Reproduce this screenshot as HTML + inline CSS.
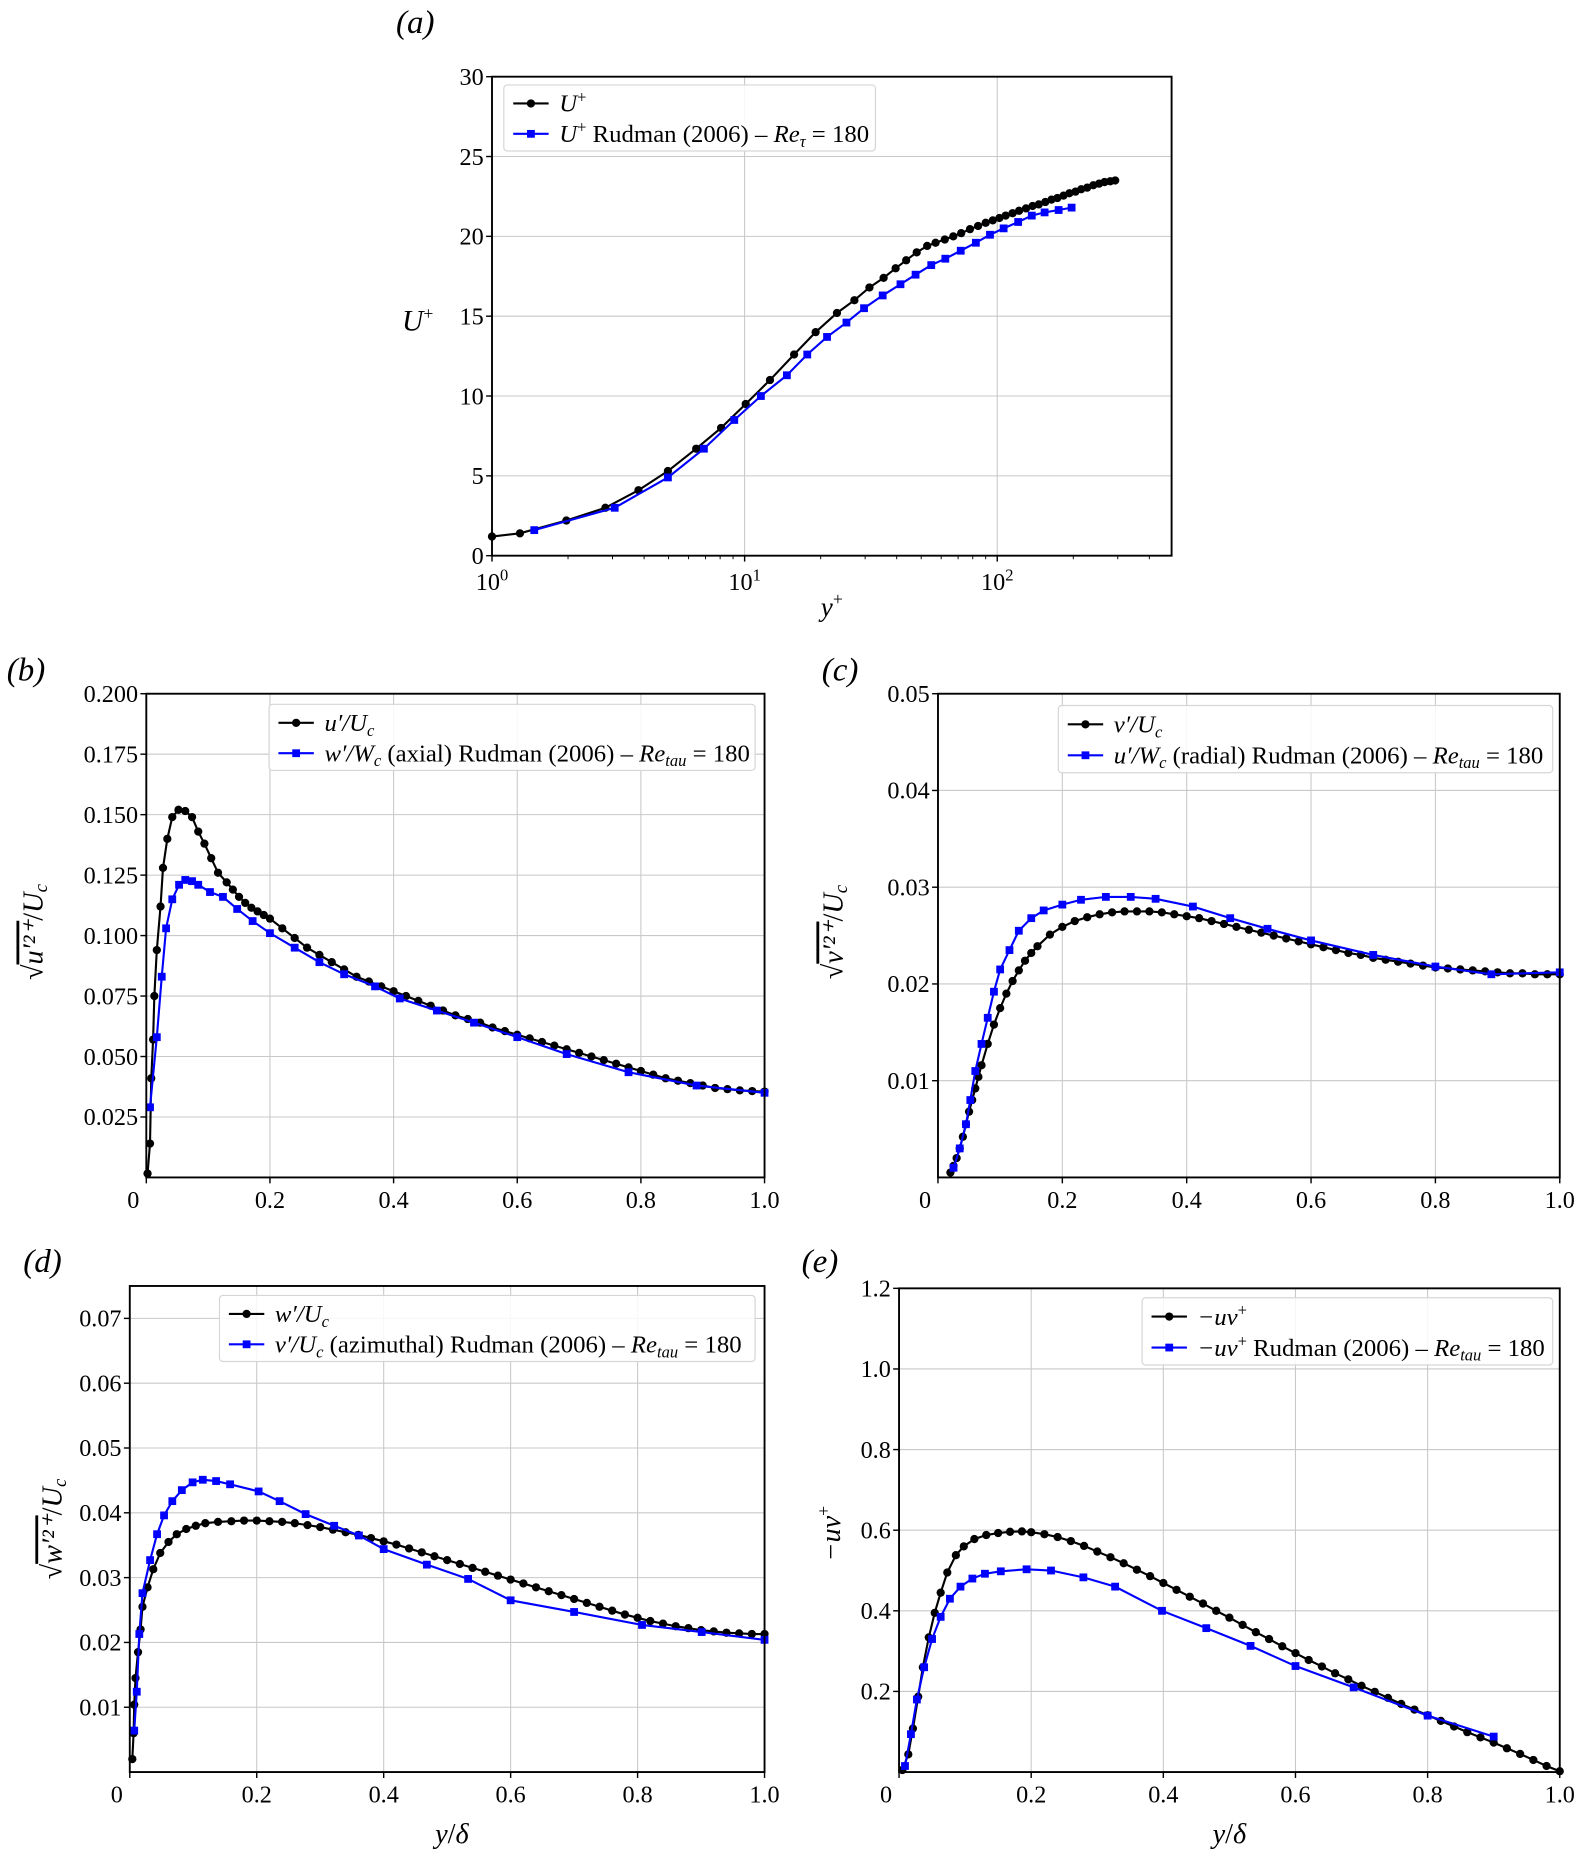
<!DOCTYPE html>
<html><head><meta charset="utf-8">
<style>
html,body{margin:0;padding:0;background:#fff;}
svg{display:block;font-family:"Liberation Serif",serif;}
</style></head>
<body>
<svg id="fig" width="1581" height="1857" viewBox="0 0 1340 1574" preserveAspectRatio="none" xmlns="http://www.w3.org/2000/svg"></svg>
<script>
// ---- panel (a) data ----
const aBlackX = [1.0,1.29,1.97,2.81,3.8,4.97,6.43,8.07,10.1,12.6,15.7,19.1,23.2,27.2,31.2,35.5,39.6,43.6,48,52.8,57,62,67,72,78,84,90,96,102,108,115,122,130,138,146,155,164,173,183,193,204,215,227,240,253,266,280,293];
const aBlackY = [1.2,1.4,2.2,3.0,4.1,5.3,6.7,8.0,9.5,11.0,12.6,14.0,15.2,16.0,16.8,17.4,18.0,18.5,19.0,19.4,19.6,19.8,20.0,20.2,20.45,20.65,20.85,21.0,21.15,21.3,21.45,21.6,21.75,21.9,22.0,22.15,22.3,22.4,22.55,22.7,22.8,22.95,23.05,23.2,23.3,23.4,23.45,23.5];
const aBlueX = [1.47,3.06,4.97,6.9,9.1,11.6,14.7,17.7,21.2,25.3,29.7,35.2,41.4,47.5,54.8,62.3,71.7,82.3,93.6,106,121,137,154,175,197];
const aBlueY = [1.6,3.0,4.9,6.7,8.5,10.0,11.3,12.6,13.7,14.6,15.5,16.3,17.0,17.6,18.2,18.6,19.1,19.6,20.1,20.5,20.9,21.3,21.5,21.65,21.8];
const aYTicks = [0,5,10,15,20,25,30];
// ---- panel (b) ----
const bBlackX = [0.002,0.006,0.008,0.011,0.013,0.017,0.023,0.027,0.034,0.042,0.052,0.063,0.074,0.084,0.094,0.105,0.116,0.13,0.14,0.15,0.16,0.17,0.18,0.19,0.2,0.22,0.24,0.26,0.28,0.30,0.32,0.34,0.36,0.38,0.40,0.42,0.44,0.46,0.48,0.50,0.52,0.54,0.56,0.58,0.60,0.62,0.64,0.66,0.68,0.70,0.72,0.74,0.76,0.78,0.80,0.82,0.84,0.86,0.88,0.90,0.92,0.94,0.96,0.98,1.0];
const bBlackY = [0.0016,0.014,0.041,0.057,0.075,0.094,0.112,0.128,0.140,0.149,0.152,0.1515,0.149,0.143,0.138,0.132,0.126,0.122,0.119,0.116,0.1135,0.1115,0.110,0.1085,0.107,0.103,0.099,0.095,0.092,0.089,0.086,0.083,0.081,0.079,0.077,0.075,0.073,0.071,0.069,0.067,0.0655,0.064,0.062,0.0605,0.059,0.0575,0.056,0.0545,0.053,0.0515,0.050,0.0485,0.047,0.0455,0.044,0.0425,0.041,0.040,0.039,0.038,0.037,0.0365,0.036,0.0357,0.0355];
const bBlueX = [0.006,0.017,0.025,0.032,0.042,0.053,0.063,0.074,0.084,0.103,0.124,0.147,0.172,0.2,0.24,0.28,0.32,0.37,0.41,0.47,0.53,0.6,0.68,0.78,0.89,1.0];
const bBlueY = [0.029,0.058,0.083,0.103,0.115,0.121,0.123,0.1225,0.121,0.118,0.116,0.111,0.106,0.101,0.095,0.089,0.084,0.079,0.074,0.069,0.064,0.058,0.051,0.0435,0.038,0.035];
const bYTicks = [0.025,0.05,0.075,0.1,0.125,0.15,0.175,0.2];
const bYLabels = ["0.025","0.050","0.075","0.100","0.125","0.150","0.175","0.200"];
// ---- panel (c) ----
const cBlackX = [0.02,0.025,0.03,0.035,0.04,0.045,0.05,0.055,0.06,0.065,0.07,0.08,0.09,0.10,0.11,0.12,0.13,0.14,0.15,0.16,0.18,0.20,0.22,0.24,0.26,0.28,0.30,0.32,0.34,0.36,0.38,0.40,0.42,0.44,0.46,0.48,0.50,0.52,0.54,0.56,0.58,0.60,0.62,0.64,0.66,0.68,0.70,0.72,0.74,0.76,0.78,0.80,0.82,0.84,0.86,0.88,0.90,0.92,0.94,0.96,0.98,1.0];
const cBlackY = [0.0005,0.0012,0.002,0.003,0.0042,0.0055,0.0068,0.008,0.0092,0.0104,0.0116,0.0138,0.0158,0.0175,0.019,0.0203,0.0214,0.0224,0.0232,0.0239,0.0251,0.0259,0.0265,0.0269,0.0272,0.0274,0.0275,0.0275,0.0275,0.0274,0.0272,0.0270,0.0268,0.0265,0.0262,0.0259,0.0256,0.0253,0.0250,0.0247,0.0244,0.0241,0.0238,0.0235,0.0232,0.0230,0.0227,0.0225,0.0223,0.0221,0.0219,0.0217,0.0216,0.0215,0.0214,0.0213,0.0212,0.0211,0.0211,0.0210,0.0210,0.0210];
const cBlueX = [0.025,0.035,0.045,0.052,0.06,0.07,0.08,0.09,0.1,0.115,0.13,0.15,0.17,0.2,0.23,0.27,0.31,0.35,0.41,0.47,0.53,0.6,0.7,0.8,0.89,1.0];
const cBlueY = [0.001,0.003,0.0055,0.008,0.011,0.0138,0.0165,0.0192,0.0215,0.0235,0.0255,0.0268,0.0276,0.0282,0.0287,0.029,0.029,0.0288,0.028,0.0268,0.0257,0.0245,0.023,0.0218,0.021,0.0212];
const cYTicks = [0.01,0.02,0.03,0.04,0.05];
const cYLabels = ["0.01","0.02","0.03","0.04","0.05"];
// ---- panel (d) ----
const dBlackX = [0.004,0.006,0.007,0.009,0.013,0.017,0.020,0.028,0.037,0.048,0.061,0.074,0.089,0.104,0.119,0.139,0.16,0.18,0.2,0.22,0.24,0.26,0.28,0.30,0.32,0.34,0.36,0.38,0.40,0.42,0.44,0.46,0.48,0.50,0.52,0.54,0.56,0.58,0.60,0.62,0.64,0.66,0.68,0.70,0.72,0.74,0.76,0.78,0.80,0.82,0.84,0.86,0.88,0.90,0.92,0.94,0.96,0.98,1.0];
const dBlackY = [0.002,0.006,0.0104,0.0145,0.0185,0.022,0.0255,0.0285,0.0313,0.0338,0.0355,0.0367,0.0375,0.038,0.0384,0.0386,0.0387,0.0388,0.0388,0.0387,0.0386,0.0384,0.0381,0.0378,0.0374,0.0370,0.0366,0.0361,0.0356,0.0351,0.0345,0.0339,0.0333,0.0327,0.0321,0.0315,0.0309,0.0303,0.0297,0.0291,0.0285,0.0279,0.0273,0.0267,0.0261,0.0255,0.0249,0.0243,0.0238,0.0233,0.0229,0.0225,0.0222,0.0219,0.0217,0.0215,0.0214,0.0213,0.0213];
const dBlueX = [0.007,0.011,0.015,0.020,0.032,0.043,0.054,0.067,0.082,0.099,0.115,0.136,0.158,0.203,0.236,0.277,0.322,0.361,0.4,0.468,0.533,0.6,0.70,0.807,0.901,1.0];
const dBlueY = [0.0064,0.0124,0.0213,0.0276,0.0327,0.0367,0.0396,0.0418,0.0435,0.0447,0.0451,0.0449,0.0444,0.0433,0.0418,0.0398,0.0380,0.0365,0.0344,0.0320,0.0298,0.0265,0.0247,0.0227,0.0216,0.0204];
const dYTicks = [0.01,0.02,0.03,0.04,0.05,0.06,0.07];
const dYLabels = ["0.01","0.02","0.03","0.04","0.05","0.06","0.07"];
// ---- panel (e) ----
const eBlackX = [0.005,0.014,0.021,0.029,0.036,0.045,0.054,0.063,0.073,0.086,0.098,0.114,0.132,0.15,0.168,0.186,0.2,0.22,0.24,0.26,0.28,0.30,0.32,0.34,0.36,0.38,0.40,0.42,0.44,0.46,0.48,0.50,0.52,0.54,0.56,0.58,0.60,0.62,0.64,0.66,0.68,0.70,0.72,0.74,0.76,0.78,0.80,0.82,0.84,0.86,0.88,0.90,0.92,0.94,0.96,0.98,1.0];
const eBlackY = [0.005,0.044,0.108,0.187,0.26,0.334,0.395,0.445,0.495,0.538,0.56,0.578,0.588,0.593,0.596,0.597,0.595,0.590,0.583,0.573,0.561,0.547,0.533,0.518,0.502,0.486,0.469,0.452,0.435,0.418,0.400,0.383,0.365,0.347,0.330,0.312,0.295,0.278,0.262,0.245,0.230,0.214,0.199,0.184,0.169,0.155,0.141,0.127,0.113,0.099,0.086,0.073,0.059,0.045,0.030,0.015,0.002];
const eBlueX = [0.009,0.018,0.027,0.038,0.05,0.063,0.077,0.093,0.111,0.130,0.154,0.193,0.230,0.279,0.327,0.398,0.465,0.532,0.6,0.688,0.8,0.9];
const eBlueY = [0.015,0.094,0.18,0.26,0.33,0.385,0.43,0.46,0.48,0.492,0.498,0.503,0.50,0.483,0.46,0.40,0.357,0.313,0.263,0.21,0.14,0.088];
const eYTicks = [0.2,0.4,0.6,0.8,1.0,1.2];
const eYLabels = ["0.2","0.4","0.6","0.8","1.0","1.2"];
const linXTicks = [0,0.2,0.4,0.6,0.8,1.0];
const linXLabels = ["0","0.2","0.4","0.6","0.8","1.0"];

const NS = "http://www.w3.org/2000/svg";
const svg = document.getElementById('fig');
const TICKFS = 20.5, LEGFS = 21;
function mk(tag, attrs, parent){
  const e = document.createElementNS(NS, tag);
  for (const k in attrs) e.setAttribute(k, attrs[k]);
  (parent||svg).appendChild(e);
  return e;
}
function txt(str, x, y, size, anchor, parent, italic){
  const t = mk('text', {x:x, y:y, 'font-size':size, 'text-anchor':anchor||'middle', fill:'#000'}, parent);
  if (italic) t.setAttribute('font-style','italic');
  t.textContent = str;
  return t;
}

function panel(cfg){
  const g = mk('g', {});
  
  
  const X = cfg.log ? (v => cfg.x0 + (Math.log10(v) - Math.log10(cfg.xmin)) / (Math.log10(cfg.xmax) - Math.log10(cfg.xmin)) * (cfg.x1 - cfg.x0))
                    : (v => cfg.x0 + (v - cfg.xmin) / (cfg.xmax - cfg.xmin) * (cfg.x1 - cfg.x0));
  const Y = v => cfg.y1 - (v - cfg.ymin) / (cfg.ymax - cfg.ymin) * (cfg.y1 - cfg.y0);
  cfg.xTicks.forEach((t,i) => {
    const x = X(t);
    if (x > cfg.x0 + 1 && x < cfg.x1 - 1) {
      const l = mk('line', {x1:x, x2:x, y1:cfg.y0, y2:cfg.y1, stroke:'#c8c8c8', 'stroke-width':0.9}, g);
      
      
    }
    mk('line', {x1:x, x2:x, y1:cfg.y1, y2:cfg.y1+5, stroke:'#000', 'stroke-width':1.2}, g);
    let lx = x;
    if (!cfg.log && t === 0) lx = x - 11;
    if (cfg.log) {
      const tt = mk('text', {x:x, y:cfg.y1+29, 'font-size':TICKFS, 'text-anchor':'middle'}, g);
      
      
      tt.textContent = '10';
      const sp = mk('tspan', {dy:-8, 'font-size':14}, tt);
      sp.textContent = cfg.xLabels[i];
    } else {
      const tl = txt(cfg.xLabels[i], lx, cfg.y1 + 26, TICKFS, 'middle', g);
      
      
    }
  });
  if (cfg.log) {
    for (let d = 0; d < 3; d++) for (let m = 2; m <= 9; m++) {
      const v = Math.pow(10, d) * m;
      if (v < cfg.xmax) mk('line', {x1:X(v), x2:X(v), y1:cfg.y1, y2:cfg.y1+3, stroke:'#000', 'stroke-width':0.8}, g);
    }
  }
  cfg.yTicks.forEach((t,i) => {
    const y = Y(t);
    if (y > cfg.y0 + 1 && y < cfg.y1 - 1) {
      const l = mk('line', {x1:cfg.x0, x2:cfg.x1, y1:y, y2:y, stroke:'#c8c8c8', 'stroke-width':0.9}, g);
      
      
    }
    mk('line', {x1:cfg.x0-5, x2:cfg.x0, y1:y, y2:y, stroke:'#000', 'stroke-width':1.2}, g);
    const tl = txt(cfg.yLabels[i], cfg.x0 - 7, y + 7, TICKFS, 'end', g);
    
    
  });
  const cid = 'clip-' + cfg.name;
  const cp = mk('clipPath', {id:cid}, g);
  mk('rect', {x:cfg.x0-6, y:cfg.y0, width:cfg.x1-cfg.x0+12, height:cfg.y1-cfg.y0+6}, cp);
  const dg = mk('g', {'clip-path':'url(#'+cid+')'}, g);
  function series(xs, ys, color, square, nm){
    const pts = xs.map((v,i) => X(v).toFixed(2) + ',' + Y(ys[i]).toFixed(2)).join(' ');
    const pl = mk('polyline', {points:pts, fill:'none', stroke:color, 'stroke-width':1.8}, dg);
    
    
    xs.forEach((v,i) => {
      const px = X(v), py = Y(ys[i]);
      let m;
      if (square) m = mk('rect', {x:px-3.3, y:py-3.3, width:6.6, height:6.6, fill:color}, dg);
      else m = mk('circle', {cx:px, cy:py, r:3.5, fill:color}, dg);
      
      
    });
  }
  series(cfg.bx, cfg.by, '#000', false, 'black-series');
  series(cfg.ux, cfg.uy, '#0000ff', true, 'blue-series');
  const fr = mk('rect', {x:cfg.x0, y:cfg.y0, width:cfg.x1-cfg.x0, height:cfg.y1-cfg.y0, fill:'none', stroke:'#000', 'stroke-width':1.6}, g);
  
  
  const L = cfg.leg;
  const lg = mk('g', {}, g);
  
  
  mk('rect', {x:L.x, y:L.y, width:L.w, height:L.h, rx:3, fill:'#fff', 'fill-opacity':0.85, stroke:'#d6d6d6', 'stroke-width':1}, lg);
  const rows = [[L.y + L.h*0.28, '#000', false, L.t1], [L.y + L.h*0.74, '#0000ff', true, L.t2]];
  rows.forEach(r => {
    const e = mk('g', {}, lg);
    
    
    mk('line', {x1:L.x+8, x2:L.x+38, y1:r[0], y2:r[0], stroke:r[1], 'stroke-width':1.8}, e);
    if (r[2]) mk('rect', {x:L.x+19.7, y:r[0]-3.3, width:6.6, height:6.6, fill:r[1]}, e);
    else mk('circle', {cx:L.x+23, cy:r[0], r:3.5, fill:r[1]}, e);
    const t = mk('text', {x:L.x+47, y:r[0]+7, 'font-size':LEGFS}, e);
    t.innerHTML = r[3];
  });
}

const RE = ' Rudman (2006) – <tspan font-style="italic">Re</tspan><tspan font-style="italic" font-size="14" dy="4">tau</tspan><tspan dy="-4"> = 180</tspan>';
panel({name:'panel-a', log:true, x0:417, x1:993, y0:65, y1:471, xmin:1, xmax:490, ymin:0, ymax:30,
  xTicks:[1,10,100], xLabels:['0','1','2'], yTicks:aYTicks, yLabels:aYTicks.map(String),
  bx:aBlackX, by:aBlackY, ux:aBlueX, uy:aBlueY,
  leg:{x:427, y:72, w:315, h:56, t1:'<tspan font-style="italic">U</tspan><tspan font-size="14" dy="-8">+</tspan>',
    t2:'<tspan font-style="italic">U</tspan><tspan font-size="14" dy="-8">+</tspan><tspan dy="8"> Rudman (2006) – </tspan><tspan font-style="italic">Re</tspan><tspan font-style="italic" font-size="14" dy="4">τ</tspan><tspan dy="-4"> = 180</tspan>'}});
panel({name:'panel-b', x0:124, x1:648, y0:588, y1:998, xmin:0, xmax:1, ymin:0, ymax:0.2,
  xTicks:linXTicks, xLabels:linXLabels, yTicks:bYTicks, yLabels:bYLabels,
  bx:bBlackX, by:bBlackY, ux:bBlueX, uy:bBlueY,
  leg:{x:228, y:597, w:412, h:56, t1:'<tspan font-style="italic">u′/U</tspan><tspan font-style="italic" font-size="14" dy="4">c</tspan>',
    t2:'<tspan font-style="italic">w′/W</tspan><tspan font-style="italic" font-size="14" dy="4">c</tspan><tspan dy="-4"> (axial)</tspan>' + RE}});
panel({name:'panel-c', x0:795, x1:1322, y0:588, y1:998, xmin:0, xmax:1, ymin:0, ymax:0.05,
  xTicks:linXTicks, xLabels:linXLabels, yTicks:cYTicks, yLabels:cYLabels,
  bx:cBlackX, by:cBlackY, ux:cBlueX, uy:cBlueY,
  leg:{x:897, y:598, w:419, h:57, t1:'<tspan font-style="italic">v′/U</tspan><tspan font-style="italic" font-size="14" dy="4">c</tspan>',
    t2:'<tspan font-style="italic">u′/W</tspan><tspan font-style="italic" font-size="14" dy="4">c</tspan><tspan dy="-4"> (radial)</tspan>' + RE}});
panel({name:'panel-d', x0:110, x1:648, y0:1090, y1:1502, xmin:0, xmax:1, ymin:0, ymax:0.075,
  xTicks:linXTicks, xLabels:linXLabels, yTicks:dYTicks, yLabels:dYLabels,
  bx:dBlackX, by:dBlackY, ux:dBlueX, uy:dBlueY,
  leg:{x:186, y:1098, w:454, h:56, t1:'<tspan font-style="italic">w′/U</tspan><tspan font-style="italic" font-size="14" dy="4">c</tspan>',
    t2:'<tspan font-style="italic">v′/U</tspan><tspan font-style="italic" font-size="14" dy="4">c</tspan><tspan dy="-4"> (azimuthal)</tspan>' + RE}});
panel({name:'panel-e', x0:762, x1:1322, y0:1092, y1:1502, xmin:0, xmax:1, ymin:0, ymax:1.2,
  xTicks:linXTicks, xLabels:linXLabels, yTicks:eYTicks, yLabels:eYLabels,
  bx:eBlackX, by:eBlackY, ux:eBlueX, uy:eBlueY,
  leg:{x:968, y:1100, w:348, h:57, t1:'<tspan font-style="italic">−uv</tspan><tspan font-size="14" dy="-8">+</tspan>',
    t2:'<tspan font-style="italic">−uv</tspan><tspan font-size="14" dy="-8">+</tspan><tspan dy="8"> Rudman (2006) – </tspan><tspan font-style="italic">Re</tspan><tspan font-style="italic" font-size="14" dy="4">tau</tspan><tspan dy="-4"> = 180</tspan>'}});

[['(a)',352,28],['(b)',22,577],['(c)',712,577],['(d)',36,1078],['(e)',695,1078]].forEach(p => {
  const t = txt(p[0], p[1], p[2], 28, 'middle', svg, true);
  
  
});
function rich(html, x, y, size, rot, nm){
  const t = mk('text', {x:x, y:y, 'font-size':size, 'text-anchor':'middle'});
  if (rot) t.setAttribute('transform', 'rotate(-90 ' + x + ' ' + y + ')');
  
  
  t.innerHTML = html;
}
rich('<tspan font-style="italic">U</tspan><tspan font-size="15" dy="-9">+</tspan>', 354, 280, 25, false, 'y-axis-title-a');
rich('<tspan font-style="italic">y</tspan><tspan font-size="15" dy="-9">+</tspan>', 705, 522, 23, false, 'x-axis-title-a');
rich('√<tspan font-style="italic" text-decoration="overline">u′²⁺</tspan>/<tspan font-style="italic">U</tspan><tspan font-style="italic" font-size="16" dy="4">c</tspan>', 36, 790, 24, true, 'y-axis-title-b');
rich('√<tspan font-style="italic" text-decoration="overline">v′²⁺</tspan>/<tspan font-style="italic">U</tspan><tspan font-style="italic" font-size="16" dy="4">c</tspan>', 714, 790, 24, true, 'y-axis-title-c');
rich('√<tspan font-style="italic" text-decoration="overline">w′²⁺</tspan>/<tspan font-style="italic">U</tspan><tspan font-style="italic" font-size="16" dy="4">c</tspan>', 52, 1296, 24, true, 'y-axis-title-d');
rich('<tspan font-style="italic">−uv</tspan><tspan font-size="15" dy="-9">+</tspan>', 712, 1300, 24, true, 'y-axis-title-e');
rich('<tspan font-style="italic">y</tspan>/<tspan font-style="italic">δ</tspan>', 383, 1562, 24, false, 'x-axis-title-d');
rich('<tspan font-style="italic">y</tspan>/<tspan font-style="italic">δ</tspan>', 1042, 1562, 24, false, 'x-axis-title-e');
</script>
</body></html>
